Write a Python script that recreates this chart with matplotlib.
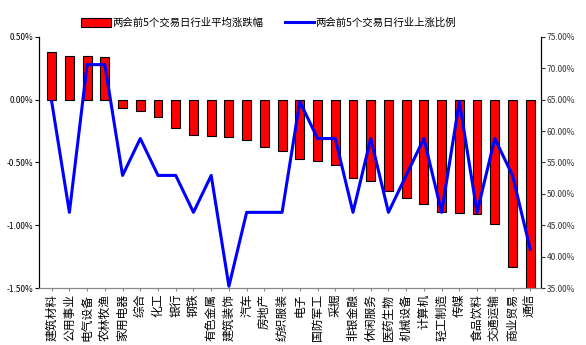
import numpy as np
import matplotlib
matplotlib.use("Agg")
import matplotlib.pyplot as plt
from matplotlib.ticker import FuncFormatter

plt.rcParams['font.family'] = ['Noto Sans CJK SC', 'DejaVu Sans']

# industries, sorted by average change
industries = ['建筑材料', '公用事业', '电气设备', '农林牧渔', '家用电器', '综合', '化工', '银行',
              '钢铁', '有色金属', '建筑装饰', '汽车', '房地产', '纺织服装', '电子', '国防军工',
              '采掘', '非银金融', '休闲服务', '医药生物', '机械设备', '计算机', '轻工制造', '传媒',
              '食品饮料', '交通运输', '商业贸易', '通信']
# average change over the 5 trading days before the two sessions (%)
avg_change = [0.376, 0.35, 0.35, 0.337, -0.066, -0.09, -0.137, -0.226,
              -0.279, -0.287, -0.297, -0.324, -0.374, -0.405, -0.474, -0.492,
              -0.521, -0.626, -0.65, -0.726, -0.784, -0.831, -0.892, -0.902,
              -0.913, -0.992, -1.33, -1.56]
# share of stocks that rose (%)
up_ratio = [64.71, 47.06, 70.59, 70.59, 52.94, 58.82, 52.94, 52.94,
            47.06, 52.94, 35.29, 47.06, 47.06, 47.06, 64.71, 58.82,
            58.82, 47.06, 58.82, 47.06, 52.94, 58.82, 47.06, 64.71,
            47.06, 58.82, 52.94, 41.18]

bar_label = '两会前5个交易日行业平均涨跌幅'
line_label = '两会前5个交易日行业上涨比例'

fig = plt.figure(figsize=(5.86, 3.45), dpi=100)
ax = fig.add_axes([0.067, 0.165, 0.856, 0.728])
ax2 = ax.twinx()

x = np.arange(len(industries))
bars = ax.bar(x, avg_change, width=0.5, color='#ff0000', edgecolor='black', linewidth=0.8,
              label=bar_label, zorder=2)
line, = ax2.plot(x, up_ratio, color='#0000ff', linewidth=2.2, label=line_label, zorder=3)

ax.set_ylim(-1.5, 0.5)
ax.set_yticks(np.arange(-1.5, 0.51, 0.5))
ax.yaxis.set_major_formatter(FuncFormatter(lambda v, p: f'{v:.2f}%'))
ax2.set_ylim(35, 75)
ax2.set_yticks(np.arange(35, 75.1, 5))
ax2.yaxis.set_major_formatter(FuncFormatter(lambda v, p: f'{v:.2f}%'))
ax.set_xlim(-0.7, len(industries) - 0.4)

ax.set_xticks(x)
ax.set_xticklabels(industries, rotation=90, fontsize=8.5, va='top', ha='center')
ax.tick_params(axis='x', length=2, pad=2, color='#888888')
ax.tick_params(axis='y', labelsize=6, length=3, pad=1)
ax2.tick_params(axis='y', labelsize=6, length=3, pad=1, colors='#333333')

for a in (ax, ax2):
    a.spines['top'].set_visible(False)
    a.spines['left'].set_linewidth(0.8)
    a.spines['right'].set_linewidth(0.8)
    a.spines['bottom'].set_color('#888888')

ax.set_zorder(ax2.get_zorder() - 1)
ax2.patch.set_visible(False)

fig.legend(handles=[bars, line], labels=[bar_label, line_label], loc='upper left',
           bbox_to_anchor=(0.123, 0.975), ncol=2, frameon=False, fontsize=7.5,
           handlelength=2.8, handleheight=0.9, columnspacing=2.0, handletextpad=0.2)

fig.savefig('out.png', dpi=100)
